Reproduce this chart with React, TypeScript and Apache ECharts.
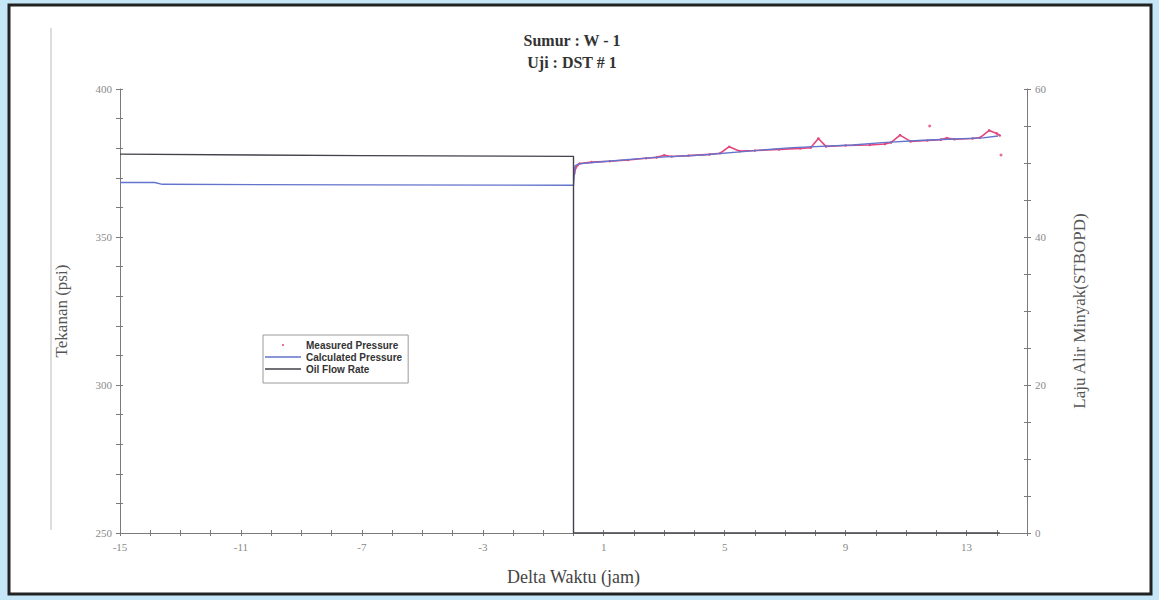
import React, { useEffect, useRef } from "react";
import * as echarts from "echarts";

const titleLines = ["Sumur : W - 1", "Uji : DST # 1"];
const xTickLabels = [-15, -11, -7, -3, 1, 5, 9, 13];
const leftTickLabels = [250, 300, 350, 400];
const rightTickLabels = [0, 20, 40, 60];

// Oil flow rate (right axis, STBOPD)
const flowTime = [-15, -7, 0, 0, 14.1];
const flowRate = [51.2, 51.0, 50.9, 0, 0];

// Calculated pressure (left axis, psi)
const calcTime = [-15, -13.85, -13.6, -7, 0, 0.05, 0.17, 0.93, 2.59, 4.25, 5.91, 7.24, 9.23, 10.22, 11.55, 12.38, 13.54, 14.04];
const calcPressure = [368.4, 368.4, 367.8, 367.6, 367.5, 374.0, 374.7, 375.4, 376.8, 377.7, 379.1, 380.2, 381.1, 381.9, 382.7, 383.0, 383.5, 384.1];

// Measured pressure (left axis, psi)
const measTime = [0.03, 0.08, 0.2, 0.6, 1.2, 1.8, 2.4, 2.75, 3.0, 3.25, 3.8, 4.5, 4.85, 5.15, 5.5, 6.0, 6.8, 7.5, 7.85, 8.1, 8.35, 9.0, 9.8, 10.3, 10.5, 10.8, 11.15, 11.7, 12.15, 12.35, 12.6, 13.2, 13.45, 13.75, 14.0, 14.1];
const measPressure = [371.5, 373.5, 374.8, 375.3, 375.6, 376.0, 376.6, 376.9, 377.6, 377.2, 377.5, 377.9, 378.3, 380.5, 379.0, 379.2, 379.6, 379.9, 380.2, 383.3, 380.6, 380.9, 381.1, 381.4, 381.9, 384.4, 382.3, 382.6, 382.9, 383.4, 383.0, 383.3, 383.6, 386.0, 385.0, 384.3];
const outlierTime = [11.78, 14.14];
const outlierPressure = [387.5, 377.7];

const seriesNames = ["Measured Pressure", "Calculated Pressure", "Oil Flow Rate"];

const SERIF = "'Liberation Serif', 'DejaVu Serif', serif";
const SANS = "'Liberation Sans', Arial, sans-serif";
const PINK = "#e4457c";
const BLUE = "#6274cc";
const DARK = "#45404a";
const AXIS = "#7a7a7a";

const dotIcon = "path://M0,0L0.01,0M36,9L36.01,9M17,4.5a1,1 0 1,0 2,0a1,1 0 1,0 -2,0";
const lineIcon = "path://M0,0L0.01,0M36,9L36.01,9M0,3.8L36,3.8L36,5.2L0,5.2Z";

export default function App() {
  const ref = useRef<HTMLDivElement>(null);

  useEffect(() => {
    if (!ref.current) return;
    const chart = echarts.init(ref.current, undefined, { renderer: "svg" });

    const zip = (a: number[], b: number[]) => a.map((v, i) => [v, b[i]]);

    const xLabel = (v: number) => {
      const r = Math.round(v);
      return xTickLabels.includes(r) ? String(r) : "";
    };
    const leftLabel = (v: number) => {
      const r = Math.round(v);
      return leftTickLabels.includes(r) ? String(r) : "";
    };
    const rightLabel = (v: number) => {
      const r = Math.round(v);
      return rightTickLabels.includes(r) ? String(r) : "";
    };

    const tickLabelStyle = { color: "#8a8a8a", fontFamily: SERIF, fontSize: 11 };

    chart.setOption({
      animation: false,
      backgroundColor: "#c4e6f7",
      title: {
        text: titleLines.join("\n"),
        left: 572,
        top: 29,
        padding: 0,
        textAlign: "center",
        textStyle: { fontFamily: SERIF, fontSize: 16, fontWeight: "bold", color: "#333", lineHeight: 22 },
      },
      graphic: [
        {
          type: "rect",
          z: -10,
          shape: { x: 9, y: 5, width: 1142, height: 589 },
          style: { fill: "#ffffff", stroke: "#222222", lineWidth: 3 },
        },
        {
          type: "line",
          z: -9,
          shape: { x1: 51, y1: 28, x2: 51, y2: 530 },
          style: { stroke: "#d2d2d2", lineWidth: 1.5 },
        },
      ],
      legend: {
        orient: "vertical",
        left: 263,
        top: 335,
        itemWidth: 36,
        itemHeight: 9,
        itemGap: 2,
        padding: [5, 6, 9, 2],
        borderColor: "#9a9a9a",
        borderWidth: 1,
        backgroundColor: "#ffffff",
        textStyle: { fontFamily: SANS, fontSize: 10, fontWeight: "bold", color: "#333" },
        data: [
          { name: seriesNames[0], icon: dotIcon, itemStyle: { color: PINK } },
          { name: seriesNames[1], icon: lineIcon, itemStyle: { color: BLUE } },
          { name: seriesNames[2], icon: lineIcon, itemStyle: { color: DARK } },
        ],
      },
      grid: { left: 120, right: 132, top: 89, bottom: 67 },
      xAxis: [
        {
          type: "value",
          min: -15,
          max: 15,
          interval: 1,
          name: "Delta Waktu (jam)",
          nameLocation: "middle",
          nameGap: 35,
          nameTextStyle: { fontFamily: SERIF, fontSize: 18, color: "#444" },
          axisLine: { onZero: false, lineStyle: { color: AXIS, width: 1 } },
          axisTick: { length: 3, lineStyle: { color: AXIS } },
          axisLabel: { formatter: xLabel, margin: 8, ...tickLabelStyle },
          splitLine: { show: false },
        },
        {
          type: "value",
          min: -15,
          max: 15,
          interval: 1,
          position: "bottom",
          axisLine: { show: false, onZero: false },
          axisTick: { inside: true, length: 3, lineStyle: { color: AXIS } },
          axisLabel: { show: false },
          splitLine: { show: false },
        },
      ],
      yAxis: [
        {
          type: "value",
          min: 250,
          max: 400,
          interval: 10,
          position: "left",
          name: "Tekanan (psi)",
          nameLocation: "middle",
          nameGap: 50,
          nameRotate: 90,
          nameTextStyle: { fontFamily: SERIF, fontSize: 17, color: "#555" },
          axisLine: { show: true, onZero: false, lineStyle: { color: AXIS, width: 1 } },
          axisTick: { show: true, length: 4, lineStyle: { color: AXIS } },
          axisLabel: { formatter: leftLabel, margin: 8, ...tickLabelStyle },
          splitLine: { show: false },
        },
        {
          type: "value",
          min: 0,
          max: 60,
          interval: 5,
          position: "right",
          name: "Laju Alir Minyak(STBOPD)",
          nameLocation: "middle",
          nameGap: 44,
          nameRotate: 90,
          nameTextStyle: { fontFamily: SERIF, fontSize: 17, color: "#555" },
          axisLine: { show: true, onZero: false, lineStyle: { color: AXIS, width: 1 } },
          axisTick: { show: true, length: 4, lineStyle: { color: AXIS } },
          axisLabel: { formatter: rightLabel, margin: 8, ...tickLabelStyle },
          splitLine: { show: false },
        },
        {
          type: "value",
          min: 250,
          max: 400,
          interval: 10,
          position: "left",
          axisLine: { show: false, onZero: false },
          axisTick: { show: true, inside: true, length: 3, lineStyle: { color: AXIS } },
          axisLabel: { show: false },
          splitLine: { show: false },
        },
        {
          type: "value",
          min: 0,
          max: 60,
          interval: 5,
          position: "right",
          axisLine: { show: false, onZero: false },
          axisTick: { show: true, inside: true, length: 3, lineStyle: { color: AXIS } },
          axisLabel: { show: false },
          splitLine: { show: false },
        },
      ],
      series: [
        {
          name: seriesNames[0],
          type: "line",
          xAxisIndex: 0,
          yAxisIndex: 0,
          data: zip(measTime, measPressure),
          symbol: "circle",
          symbolSize: 2.5,
          showAllSymbol: true,
          lineStyle: { color: PINK, width: 1.6 },
          itemStyle: { color: PINK },
          z: 2,
        },
        {
          name: seriesNames[0],
          type: "scatter",
          xAxisIndex: 0,
          yAxisIndex: 0,
          data: zip(outlierTime, outlierPressure),
          symbol: "circle",
          symbolSize: 3,
          itemStyle: { color: PINK },
          z: 2,
        },
        {
          name: seriesNames[1],
          type: "line",
          xAxisIndex: 0,
          yAxisIndex: 0,
          data: zip(calcTime, calcPressure),
          symbol: "none",
          lineStyle: { color: BLUE, width: 1.4 },
          itemStyle: { color: BLUE },
          z: 3,
        },
        {
          name: seriesNames[2],
          type: "line",
          xAxisIndex: 0,
          yAxisIndex: 1,
          data: zip(flowTime, flowRate),
          symbol: "none",
          lineStyle: { color: DARK, width: 1.4 },
          itemStyle: { color: DARK },
          z: 4,
        },
      ],
    });

    return () => chart.dispose();
  }, []);

  return (
    <div
      ref={ref}
      style={{ position: "fixed", left: 0, top: 0, width: 1159, height: 600 }}
    />
  );
}
